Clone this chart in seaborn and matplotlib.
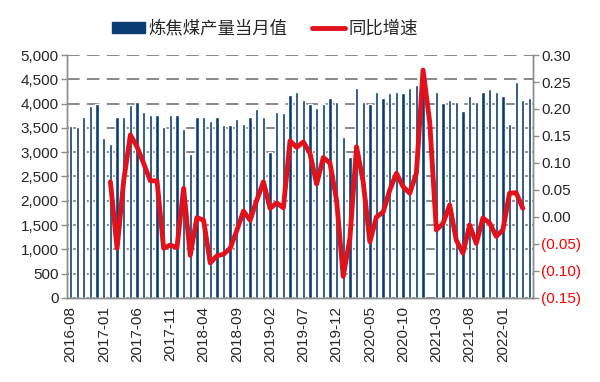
import numpy as np
import pandas as pd
import seaborn as sns
import matplotlib.pyplot as plt
from matplotlib.patches import Patch
from matplotlib.lines import Line2D

# monthly data, 2016-08 .. 2022-05
months = pd.period_range('2016-08', '2022-05', freq='M').strftime('%Y-%m').tolist()

output = [3545, 3525, 3730, 3950, 3985, 3300, 3160, 3718, 3730, 3970,
          4025, 3835, 3770, 3770, 3525, 3760, 3770, 3470, 2970, 3718,
          3718, 3650, 3730, 3560, 3560, 3676, 3580, 3730, 3885, 3718,
          2995, 3835, 3800, 4177, 4232, 4074, 3990, 3903, 3990, 4115,
          4040, 3320, 2900, 4328, 4040, 3990, 4245, 4115, 4212, 4232,
          4212, 4328, 4383, 4400, np.nan, 4232, 4005, 4074, 4040, 3854,
          4156, 4040, 4232, 4294, 4232, 4156, 3573, 4451, 4074, 4122]

yoy = [np.nan] * 6 + [
    0.065, -0.058, 0.068, 0.152, 0.130, 0.099, 0.067, 0.067, -0.058, -0.052,
    -0.057, 0.053, -0.071, -0.001, -0.006, -0.085, -0.072, -0.069, -0.058, -0.025,
    0.011, -0.006, 0.031, 0.065, 0.016, 0.026, 0.017, 0.141, 0.129, 0.139,
    0.118, 0.061, 0.110, 0.100, 0.031, -0.110, -0.040, 0.130, 0.065, -0.046,
    0.000, 0.009, 0.050, 0.081, 0.056, 0.044, 0.081, 0.272, 0.176, -0.024,
    -0.012, 0.022, -0.043, -0.067, -0.015, -0.049, -0.002, -0.011, -0.036, -0.024,
    0.044, 0.045, 0.016] + [np.nan]

left_ticks = list(range(0, 5001, 500))
right_ticks = [0.30, 0.25, 0.20, 0.15, 0.10, 0.05, 0.00, -0.05, -0.10, -0.15]

df = pd.DataFrame({'month': months, 'output': output, 'yoy': yoy})
df['pos'] = np.arange(len(df))

blue = '#0B3C73'
red = '#E0121C'
gray = '#8C8C8C'

sns.set_style('white')
plt.rcParams['font.family'] = ['Liberation Sans', 'Noto Sans CJK SC', 'DejaVu Sans']

fig, ax = plt.subplots(figsize=(6, 3.82), dpi=100)
plt.subplots_adjust(left=0.112, right=0.888, top=0.856, bottom=0.22)

sns.barplot(data=df, x='month', y='output', order=months, color=blue,
            width=0.5, saturation=1, ax=ax)
ax.set_axisbelow(True)
ax.yaxis.grid(True, linestyle=(0, (7, 4)), color='#7F7F7F', linewidth=1.3)
ax.set_ylim(0, 5000)
ax.set_yticks(left_ticks)
ax.set_yticklabels([f'{v:,}' for v in left_ticks], fontsize=11)
ax.set_xlabel('')
ax.set_ylabel('')

# category axis: ticks between groups of 5, labels on the first month
ax.set_xticks(np.arange(-0.5, len(months), 5))
ax.set_xticklabels([])
ax.set_xticks(np.arange(0, len(months), 5), minor=True)
ax.set_xticklabels(months[::5], minor=True, rotation=90, fontsize=11)
ax.tick_params(axis='x', which='major', length=4, color=gray, width=1)
ax.tick_params(axis='x', which='minor', length=0, pad=6)
ax.tick_params(axis='y', length=4, color=gray, width=1, pad=2)

ax2 = ax.twinx()
sns.lineplot(data=df, x='pos', y='yoy', color=red, linewidth=3.5, ax=ax2)
ax2.set_ylim(-0.15, 0.30)
ax2.set_yticks(right_ticks)
ax2.set_yticklabels([f'{v:.2f}' if v >= 0 else f'({-v:.2f})' for v in right_ticks],
                    fontsize=11)
for lab, v in zip(ax2.get_yticklabels(), right_ticks):
    if v < 0:
        lab.set_color('#FF0000')
ax2.tick_params(axis='y', length=4, color=gray, width=1, pad=2)
ax2.set_ylabel('')
ax2.set_xlabel('')
ax.set_xlim(-0.5, len(months) - 0.5)

for a in (ax, ax2):
    a.spines['top'].set_visible(False)
    for s in ('left', 'right', 'bottom'):
        a.spines[s].set_color(gray)
        a.spines[s].set_linewidth(1)

handles = [Patch(facecolor=blue, edgecolor=blue),
           Line2D([0], [0], color=red, linewidth=3.5)]
fig.legend(handles, ['炼焦煤产量当月值', '同比增速'], loc='upper center',
           bbox_to_anchor=(0.442, 0.99), ncol=2, frameon=False,
           prop={'family': ['Noto Sans CJK SC', 'DejaVu Sans'], 'size': 12.5},
           handlelength=1.9, handleheight=0.6, columnspacing=1.4, handletextpad=0.2)

fig.savefig('out.png', dpi=100)
